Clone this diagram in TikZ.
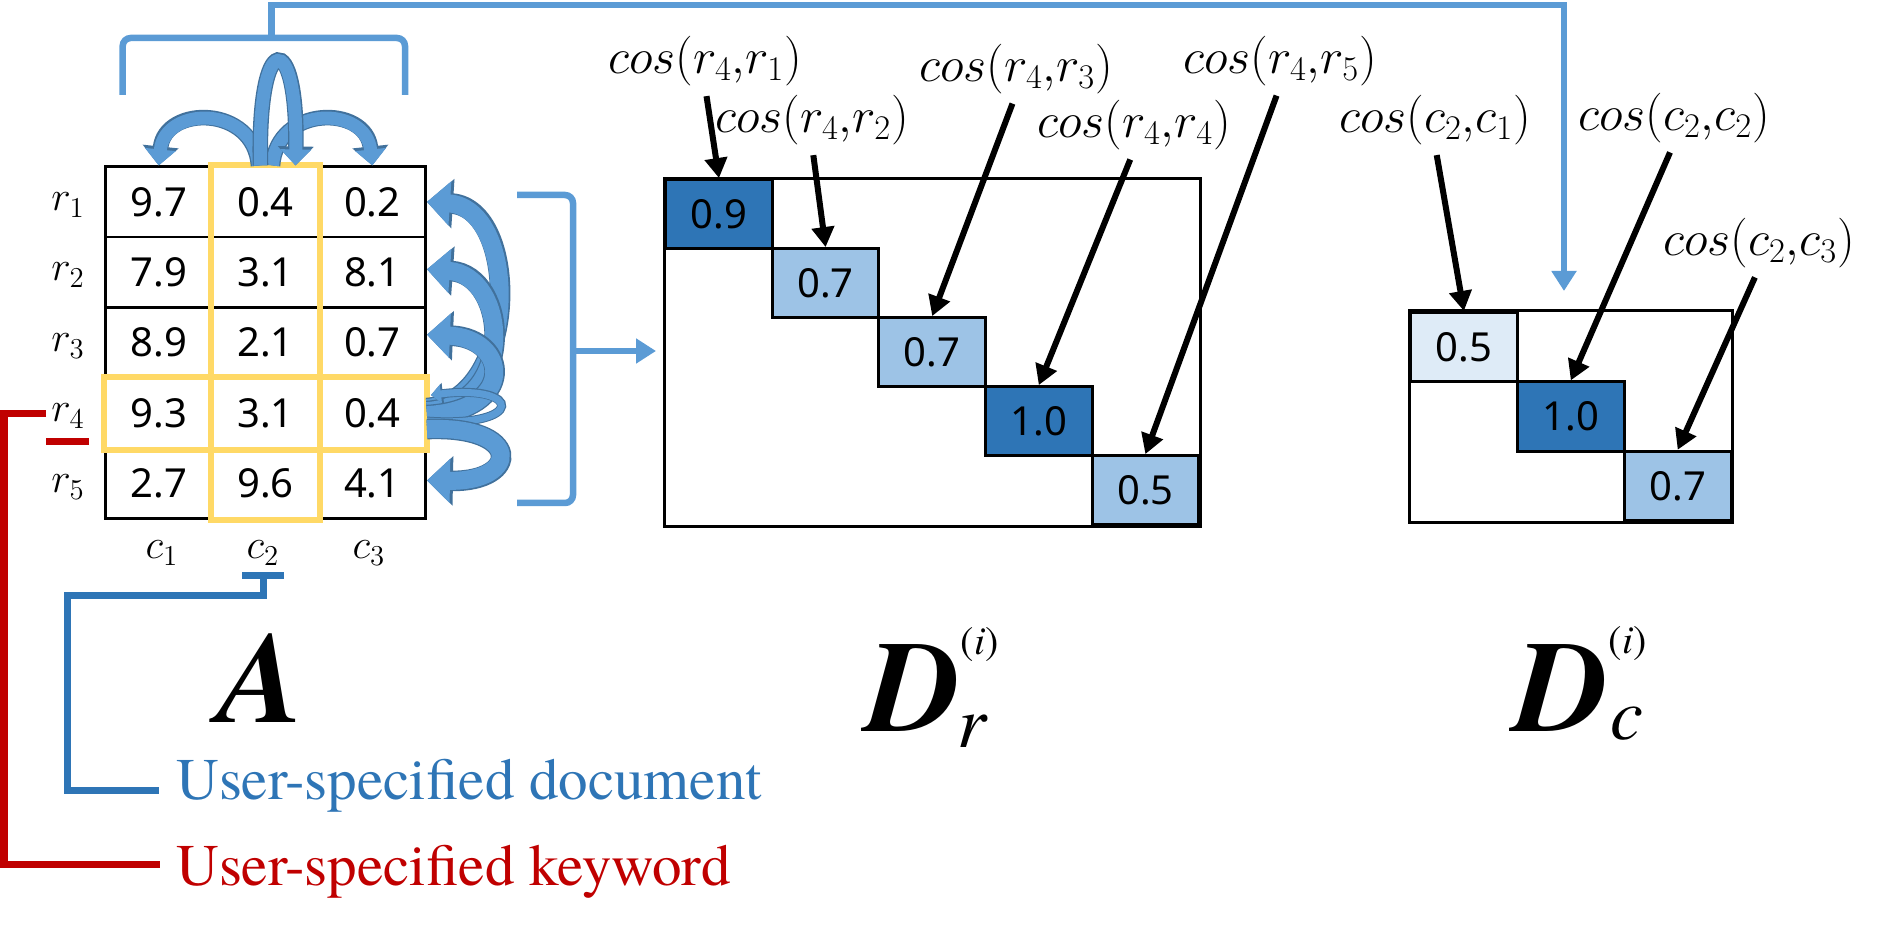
\documentclass[tikz,border=0pt]{standalone}
\usepackage{fontspec}
\newfontfamily\serifont{TeX Gyre Termes}
\newfontfamily\numfont{Noto Sans}
\usetikzlibrary{arrows.meta,calc}
\definecolor{lblue}{HTML}{5B9BD5}
\definecolor{dblue}{HTML}{2E75B6}
\definecolor{pblue}{HTML}{9DC3E6}
\definecolor{vblue}{HTML}{DEEBF7}
\definecolor{oblue}{HTML}{41719C}
\definecolor{kred}{HTML}{C00000}
\definecolor{gold}{HTML}{FFD966}
\newcommand\mysupsty{\serifont\fontsize{20}{24}\selectfont\mdseries\upshape}
\newcommand\mysubsty{\serifont\fontsize{37}{40}\selectfont\mdseries\itshape}
\begin{document}
\begin{tikzpicture}[x=0.5pt,y=-0.5pt,
  cell/.style={draw=black, line width=1.25pt, minimum width=53.4pt, minimum height=35.2pt, inner sep=0pt, font=\numfont\fontsize{20}{24}\selectfont},
  dcell/.style={draw=black, line width=1.5pt, minimum width=53.3pt, minimum height=34.5pt, inner sep=0pt, font=\numfont\fontsize{20}{24}\selectfont},
  lab/.style={inner sep=0pt, font=\fontsize{22}{24}\selectfont},
  coslab/.style={inner sep=0pt, font=\fontsize{24}{28}\selectfont},
  blk/.style={draw=black, line width=3pt, -{Triangle[width=11pt,length=10pt]}, shorten <=5pt},
  conn/.style={draw=lblue, line width=3.25pt},
  conntip/.style={conn, -{Triangle[width=12pt,length=10pt]}},
  bA/.style={draw=lblue, line width=6.5pt, -{Triangle[width=15pt,length=8pt]},
     preaction={draw=oblue, line width=7.8pt, -{Triangle[width=17.5pt,length=9.5pt]}}},
  bB/.style={draw=lblue, line width=9pt, -{Triangle[width=21.5pt,length=11.5pt]},
     preaction={draw=oblue, line width=10.3pt, -{Triangle[width=24pt,length=13pt]}}},
  bC/.style={draw=lblue, line width=3.5pt, -{Triangle[width=9pt,length=5pt]},
     preaction={draw=oblue, line width=4.5pt, -{Triangle[width=10.5pt,length=6pt]}}},
  redl/.style={draw=kred, line width=3.5pt},
  docl/.style={draw=dblue, line width=3.5pt},
  bigl/.style={inner sep=0pt, anchor=base, font=\serifont\fontsize{65}{70}\selectfont\bfseries\itshape},
  txtl/.style={inner sep=0pt, anchor=base west, font=\serifont\fontsize{29.5}{34}\selectfont}
]
\useasboundingbox (0,0) rectangle (1881,935);

% ---- matrix A ----
\node[cell] (a11) at (158.7,201.9) {9.7};
\node[cell] (a12) at (265.5,201.9) {0.4};
\node[cell] (a13) at (372.3,201.9) {0.2};
\node[cell] (a21) at (158.7,272.3) {7.9};
\node[cell] (a22) at (265.5,272.3) {3.1};
\node[cell] (a23) at (372.3,272.3) {8.1};
\node[cell] (a31) at (158.7,342.7) {8.9};
\node[cell] (a32) at (265.5,342.7) {2.1};
\node[cell] (a33) at (372.3,342.7) {0.7};
\node[cell] (a41) at (158.7,413.1) {9.3};
\node[cell] (a42) at (265.5,413.1) {3.1};
\node[cell] (a43) at (372.3,413.1) {0.4};
\node[cell] (a51) at (158.7,483.5) {2.7};
\node[cell] (a52) at (265.5,483.5) {9.6};
\node[cell] (a53) at (372.3,483.5) {4.1};
\draw[gold, line width=3pt] (a41.north west) rectangle (a43.south east);
\draw[gold, line width=3pt] (a12.north west) rectangle (a52.south east);

\node[lab] (r1) at (68,205) {$r_1$};
\node[lab] (r2) at (68,275) {$r_2$};
\node[lab] (r3) at (68,346) {$r_3$};
\node[lab] (r4) at (68,416) {$r_4$};
\node[lab] (r5) at (68,487) {$r_5$};
\node[lab] (c1) at (162,553) {$c_1$};
\node[lab] (c2) at (263,553) {$c_2$};
\node[lab] (c3) at (369,553) {$c_3$};

% ---- curved block arrows (top) ----
\draw[bA] ($(a12.north)+(-7,0)$) .. controls (254,105) and (165,105) .. (a11.north);
\draw[bA] ($(a12.north)+(7,0)$) .. controls (277,105) and (366,105) .. (a13.north);
\draw[bA] ($(a12.north)+(-5,0)$) .. controls (257,28) and (298,28) .. ($(a12.north)+(30,0)$);

% ---- curved block arrows (right) ----
\draw[bB] ($(a43.east)+(0,-5)$) .. controls (520,400) and (520,208) .. (a13.east);
\draw[bB] ($(a43.east)+(0,-2)$) .. controls (518,405) and (508,275) .. ($(a23.east)+(0,-3)$);
\draw[bB] ($(a43.east)+(0,2)$) .. controls (518,410) and (508,338) .. ($(a33.east)+(0,-8)$);
\draw[bC] ($(a43.east)+(0,8)$) .. controls (526,428) and (522,384) .. ($(a43.east)+(4,-18)$);
\draw[bB] ($(a43.east)+(0,16)$) .. controls (523,425) and (520,482) .. ($(a53.east)+(0,-3)$);

% ---- blue brackets and connectors ----
\coordinate (bm) at (271.7,38);
\coordinate (topc) at (271.7,5);
\coordinate (dcin) at (1564,291);
\draw[conn, rounded corners=4pt] (122.7,95) -- (122.7,38) -- (405,38) -- (405,95);
\draw[conntip] (bm) -- (topc) -| (dcin);
\draw[conn, rounded corners=4pt] (517,195) -- (573,195) -- (573,503) -- (517,503);
\coordinate (brm) at (573,351);
\coordinate (drin) at (656,351);
\draw[conntip] (brm) -- (drin);

% ---- D_r matrix ----
\node[dcell, fill=dblue] (d1) at (719.0,214.1) {0.9};
\node[dcell, fill=pblue] (d2) at (825.6,283.1) {0.7};
\node[dcell, fill=pblue] (d3) at (932.2,352.1) {0.7};
\node[dcell, fill=dblue] (d4) at (1038.8,421.1) {1.0};
\node[dcell, fill=pblue] (d5) at (1145.4,490.1) {0.5};
\draw[line width=1.5pt] (d1.north west) rectangle (d5.south east);

% ---- D_c matrix ----
\node[dcell, fill=vblue, minimum height=34.7pt] (e1) at (1463.9,347.2) {0.5};
\node[dcell, fill=dblue, minimum height=34.7pt] (e2) at (1570.8,416.6) {1.0};
\node[dcell, fill=pblue, minimum height=34.7pt] (e3) at (1677.7,486.0) {0.7};
\draw[line width=1.5pt] (e1.north west) rectangle (e3.south east);

% ---- cos labels and arrows ----
\node[coslab] (L1) at (705,61) {$cos(r_4{,}r_1)$};
\node[coslab] (L2) at (812,120) {$cos(r_4{,}r_2)$};
\node[coslab] (L3) at (1016,69) {$cos(r_4{,}r_3)$};
\node[coslab] (L4) at (1134,125) {$cos(r_4{,}r_4)$};
\node[coslab] (L5) at (1280,61) {$cos(r_4{,}r_5)$};
\node[coslab] (K1) at (1435,120) {$cos(c_2{,}c_1)$};
\node[coslab] (K2) at (1674,118) {$cos(c_2{,}c_2)$};
\node[coslab] (K3) at (1759,243) {$cos(c_2{,}c_3)$};
\draw[blk] (L1.south) -- (d1.north);
\draw[blk] (L2.south) -- (d2.north);
\draw[blk] (L3.south) -- (d3.north);
\draw[blk] (L4.south) -- (d4.north);
\draw[blk] (L5.south) -- (d5.north);
\draw[blk] (K1.south) -- (e1.north);
\draw[blk] (K2.south) -- (e2.north);
\draw[blk] (K3.south) -- (e3.north);

% ---- big labels ----
\node[bigl] (Alab) at (262,722) {A};
\node[bigl] (Dr) at (914,732) {D\rlap{\raisebox{39pt}{\mysupsty(\textit{i})}}\rlap{\hspace{-1.5pt}\raisebox{-8pt}{\mysubsty r}}};
\node[bigl] (Dc) at (1562,732) {D\rlap{\raisebox{39.5pt}{\mysupsty(\textit{i})}}\rlap{\hspace{1pt}\raisebox{-4pt}{\mysubsty c}}};

% ---- user-specified legends ----
\node[txtl, text=dblue] (doc) at (176,799) {User-specified document};
\node[txtl, text=kred] (kw) at (176,885) {User-specified keyword};
\coordinate (barl) at (242,576);
\coordinate (barr) at (284,576);
\coordinate (barm) at (263,576);
\coordinate (docend) at (159,790);
\draw[docl] (barl) -- (barr);
\draw[docl] (barm) -- (263,596) -- (67,596) -- (67,790) -- (docend);
\coordinate (rs) at (46,414);
\coordinate (kwend) at (160,864);
\draw[redl] (rs) -- (4,414) -- (4,864) -- (kwend);
\draw[redl] (46,442) -- (89,442);
\end{tikzpicture}
\end{document}
